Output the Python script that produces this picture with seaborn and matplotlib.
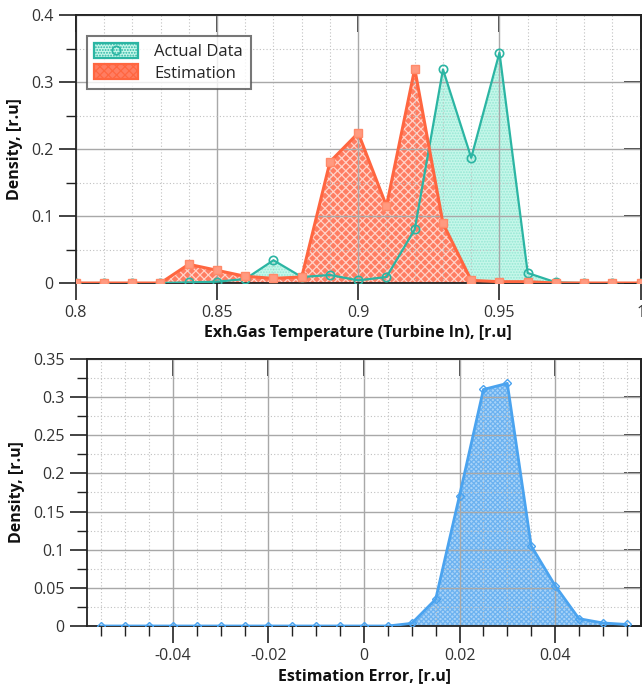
import numpy as np
import pandas as pd
import matplotlib
matplotlib.use("Agg")
import matplotlib.pyplot as plt
from matplotlib.ticker import MultipleLocator, FuncFormatter, NullLocator
from matplotlib.patches import Patch
from matplotlib.lines import Line2D
import seaborn as sns

# ---- data ----
temp_x = [0.80, 0.81, 0.82, 0.83, 0.84, 0.85, 0.86, 0.87, 0.88, 0.89, 0.90,
          0.91, 0.92, 0.93, 0.94, 0.95, 0.96, 0.97, 0.98, 0.99, 1.00]
actual_density = [0.0, 0.0, 0.0, 0.0, 0.001, 0.002, 0.006, 0.034, 0.009, 0.012, 0.004,
                  0.009, 0.080, 0.319, 0.187, 0.344, 0.015, 0.001, 0.0, 0.0, 0.0]
estim_density = [0.0, 0.0, 0.0, 0.0, 0.028, 0.019, 0.010, 0.007, 0.009, 0.181, 0.224,
                 0.115, 0.320, 0.089, 0.004, 0.002, 0.002, 0.0, 0.0, 0.0, 0.0]

err_x = [-0.055, -0.05, -0.045, -0.04, -0.035, -0.03, -0.025, -0.02, -0.015, -0.01,
         -0.005, 0.0, 0.005, 0.01, 0.015, 0.02, 0.025, 0.03, 0.035, 0.04, 0.045,
         0.05, 0.055]
err_density = [0.0, 0.0, 0.0, 0.0, 0.0, 0.0, 0.0, 0.0, 0.0, 0.0,
               0.0, 0.0, 0.0, 0.0035, 0.035, 0.171, 0.310, 0.318, 0.105, 0.053, 0.0096,
               0.004, 0.002]

series_names = ["Actual Data", "Estimation"]

# ---- style ----
sns.set_theme(style="white")
plt.rcParams["font.family"] = ["Open Sans", "DejaVu Sans"]
plt.rcParams["hatch.linewidth"] = 0.9

TEAL = "#2bb5a3"
TEAL_FILL = "#c6f7ea"
ORANGE = "#ff6640"
ORANGE_FILL = "#ff7d62"
BLUE = "#4aa3ef"
BLUE_FILL = "#a8d3f8"
TICKC = "#333333"

fig = plt.figure(figsize=(6.42, 6.87), dpi=100)
ax1 = fig.add_axes([0.118, 0.588, 0.880, 0.390])
ax2 = fig.add_axes([0.1355, 0.0888, 0.863, 0.3887])

df_t = pd.DataFrame({"x": temp_x * 2,
                     "y": actual_density + estim_density,
                     "series": [series_names[0]] * len(temp_x) + [series_names[1]] * len(temp_x)})
df_e = pd.DataFrame({"x": err_x, "y": err_density})

# ---- top: fills ----
ax1.fill_between(temp_x, actual_density, 0, facecolor=TEAL_FILL, edgecolor="#96e8d4",
                 hatch="......", linewidth=0, zorder=1)
ax1.fill_between(temp_x, estim_density, 0, facecolor=ORANGE_FILL, edgecolor="#ffd3c8",
                 hatch="xxxx", linewidth=0, zorder=1.2)

sns.lineplot(data=df_t[df_t.series == series_names[0]], x="x", y="y", ax=ax1,
             color=TEAL, lw=1.6, marker="o", markersize=6, markerfacecolor="none",
             markeredgecolor=TEAL, markeredgewidth=1.2, zorder=4, legend=False)
sns.lineplot(data=df_t[df_t.series == series_names[1]], x="x", y="y", ax=ax1,
             color=ORANGE, lw=2.2, marker="s", markersize=5.5, markerfacecolor="#ff9a80",
             markeredgecolor="#ff8a6a", markeredgewidth=1.0, zorder=5, legend=False)

# ---- bottom ----
ax2.fill_between(err_x, err_density, 0, facecolor=BLUE_FILL, edgecolor="#6cb2f0",
                 hatch="xxxxxxx", linewidth=0, zorder=1)
sns.lineplot(data=df_e, x="x", y="y", ax=ax2, color=BLUE, lw=2.0, marker="D",
             markersize=4.5, markerfacecolor="none", markeredgecolor=BLUE,
             markeredgewidth=1.0, zorder=4, legend=False)

def fmt(v, pos):
    s = "%g" % round(v, 6)
    if s == "-0":
        s = "0"
    return s

def style_axes(ax, xmaj, xmin, ymaj, ymin, xlim, ylim, xminor_ticks):
    ax.set_xlim(*xlim)
    ax.set_ylim(*ylim)
    ax.xaxis.set_major_locator(MultipleLocator(xmaj))
    ax.xaxis.set_minor_locator(MultipleLocator(xmin))
    ax.yaxis.set_major_locator(MultipleLocator(ymaj))
    ax.yaxis.set_minor_locator(MultipleLocator(ymin))
    ax.xaxis.set_major_formatter(FuncFormatter(fmt))
    ax.yaxis.set_major_formatter(FuncFormatter(fmt))
    ax.grid(True, which="major", color="#a8a8a8", lw=1.0, ls="-")
    ax.grid(True, which="minor", color="#c0c0c0", lw=0.8, ls=(0, (1, 2)))
    ax.set_axisbelow("line")
    ax.tick_params(axis="both", which="major", direction="out", length=12, width=1.2,
                   color="#222222", labelsize=11.5, labelcolor=TICKC, pad=4,
                   bottom=True, left=True, top=False, right=False)
    ax.tick_params(axis="y", which="minor", direction="out", length=7, width=1.0,
                   color="#222222", left=True, right=False)
    ax.tick_params(axis="x", which="minor", direction="out",
                   length=7 if xminor_ticks else 0, width=1.0, color="#222222",
                   bottom=True, top=False)
    for sp in ax.spines.values():
        sp.set_color("#222222")
        sp.set_linewidth(1.3)
    sx = ax.secondary_xaxis("top")
    sx.set_xticks(ax.get_xticks())
    sx.tick_params(direction="in", length=12, width=1.2, color="#222222", labeltop=False)
    sx.xaxis.set_minor_locator(NullLocator())
    sy = ax.secondary_yaxis("right")
    sy.set_yticks(ax.get_yticks())
    sy.tick_params(direction="in", length=12, width=1.2, color="#222222", labelright=False)
    sy.yaxis.set_minor_locator(NullLocator())
    ax.set_xlim(*xlim)
    ax.set_ylim(*ylim)

style_axes(ax1, 0.05, 0.01, 0.1, 0.05, (0.8, 1.0), (0, 0.4), False)
style_axes(ax2, 0.02, 0.005, 0.05, 0.025, (-0.058, 0.058), (0, 0.35), True)

ax1.set_xlabel("Exh.Gas Temperature (Turbine In), [r.u]", fontsize=11.5, fontweight="bold",
               color="#111111", labelpad=3)
ax1.set_ylabel("Density, [r.u]", fontsize=11.5, fontweight="bold", color="#111111", labelpad=6)
ax2.set_xlabel("Estimation Error, [r.u]", fontsize=11.5, fontweight="bold",
               color="#111111", labelpad=3)
ax2.set_ylabel("Density, [r.u]", fontsize=11.5, fontweight="bold", color="#111111", labelpad=6)

handles = [
    (Patch(facecolor=TEAL_FILL, edgecolor=TEAL, hatch="......", lw=1.6),
     Line2D([], [], ls="none", marker="o", markersize=6, markerfacecolor="none",
            markeredgecolor=TEAL, markeredgewidth=1.2)),
    Patch(facecolor=ORANGE_FILL, edgecolor=ORANGE, hatch="xxxx", lw=1.6),
]
leg = ax1.legend(handles, series_names, loc="upper left", fontsize=12,
                 frameon=True, fancybox=False, edgecolor="#555555",
                 bbox_to_anchor=(0.005, 0.955), borderaxespad=0.5,
                 handlelength=2.6, handleheight=1.0, labelspacing=0.25,
                 handletextpad=1.0, borderpad=0.45)
leg.get_frame().set_linewidth(1.5)
leg.set_zorder(10)

fig.savefig("out.png", dpi=100, facecolor="white")
